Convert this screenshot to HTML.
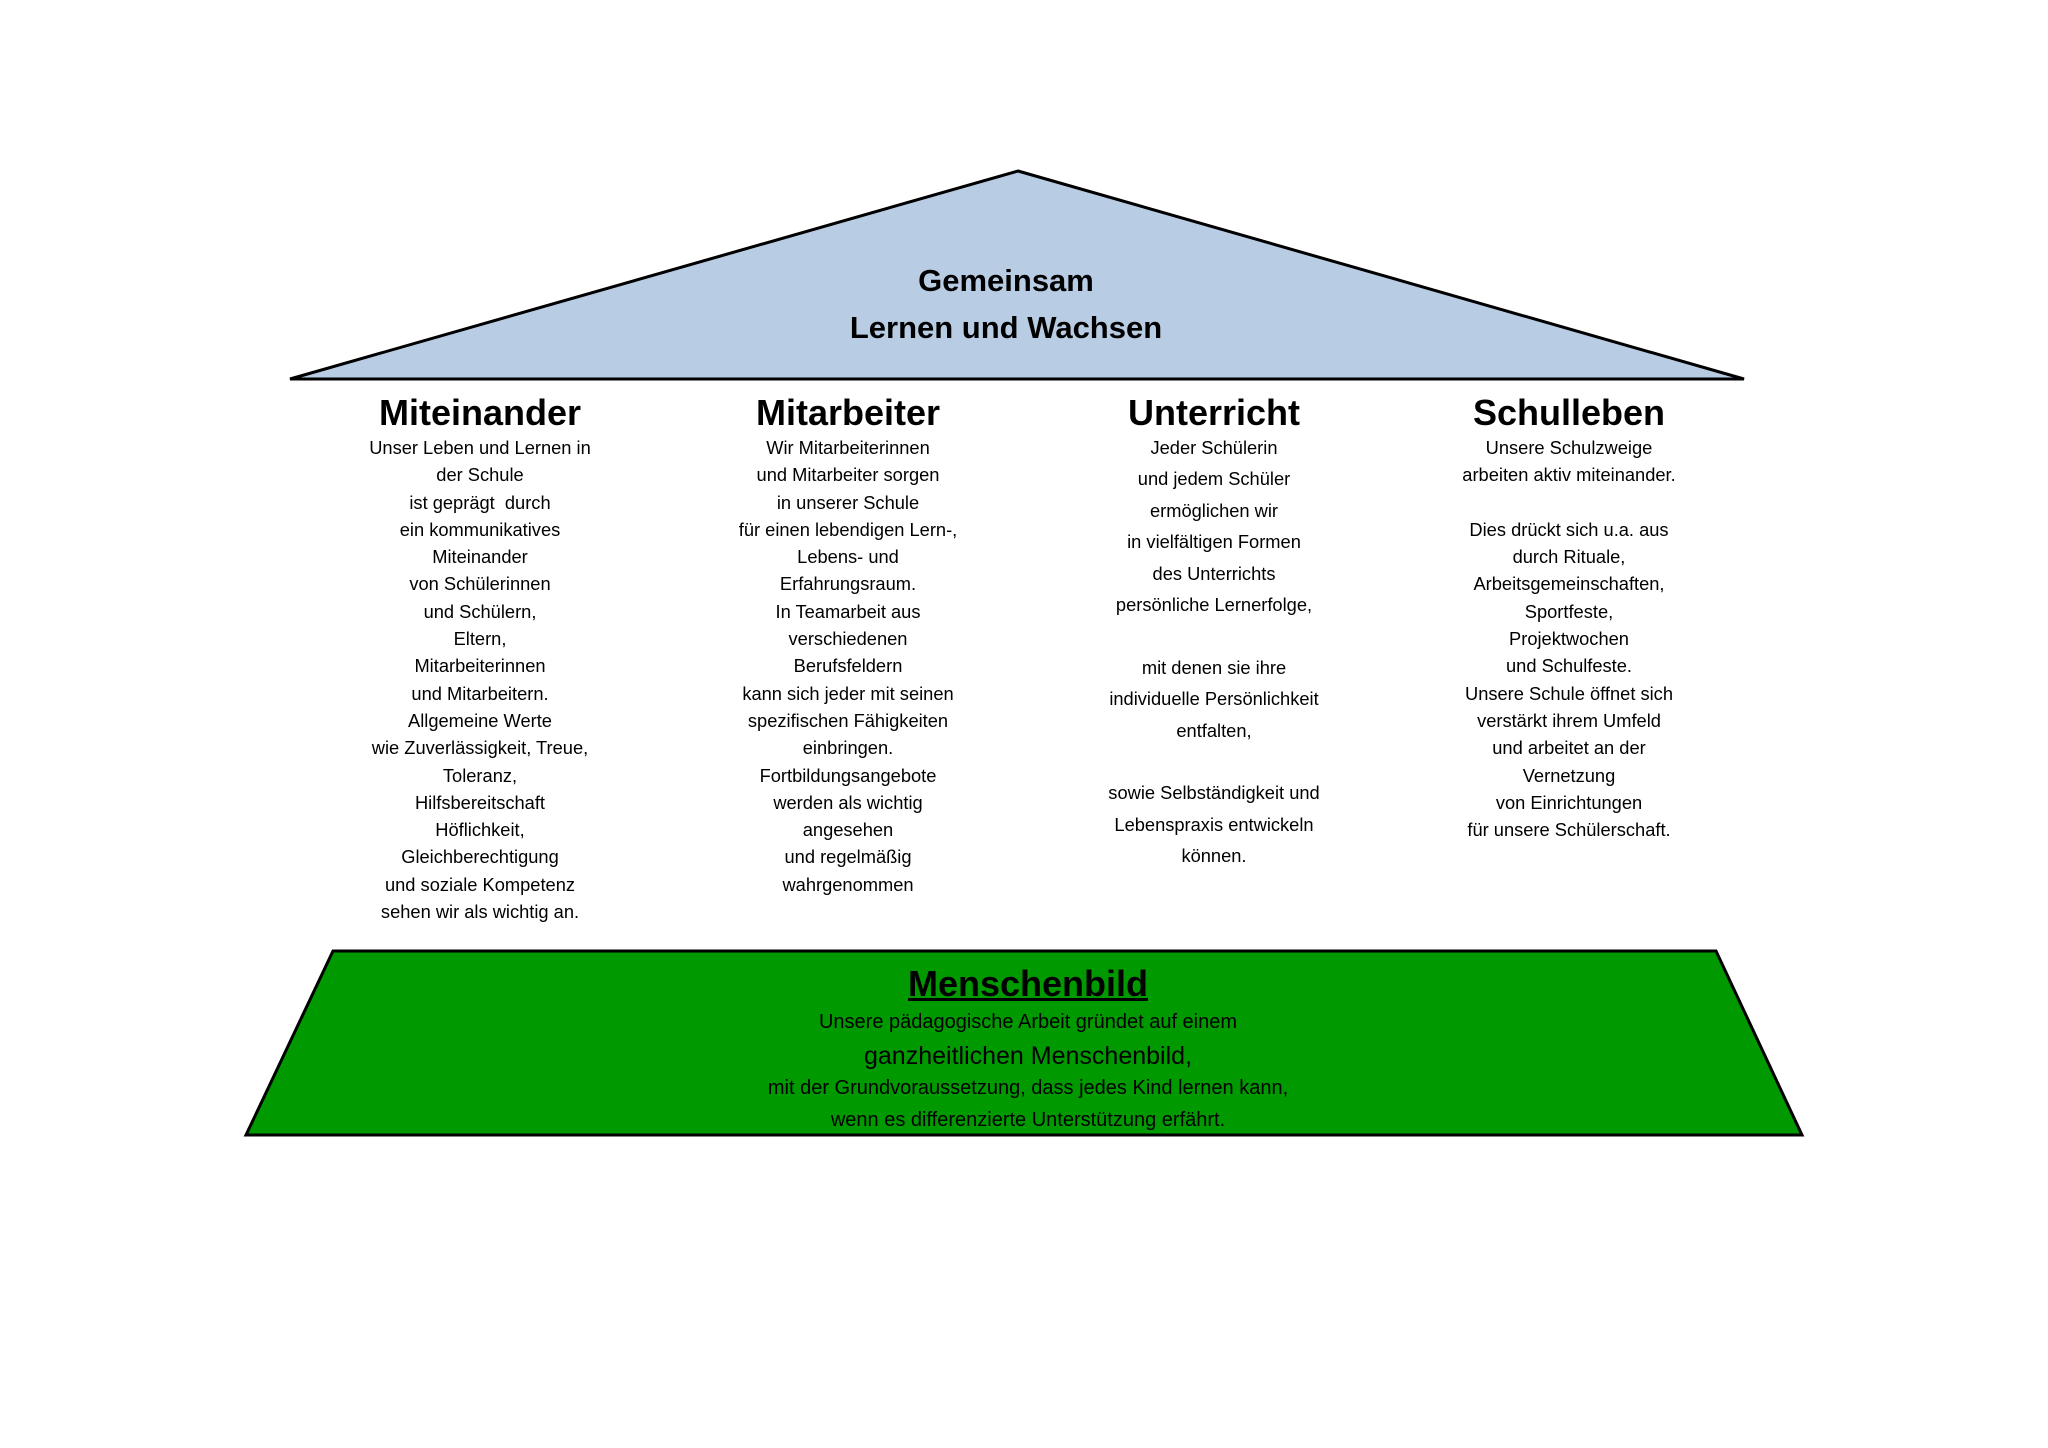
<!DOCTYPE html>
<html><head><meta charset="utf-8"><style>
html,body{margin:0;padding:0;background:#fff}
body{width:2048px;height:1448px;position:relative;overflow:hidden;font-family:"Liberation Sans",sans-serif;color:#000}
.t{position:absolute;text-align:center;white-space:nowrap;transform:translateX(-50%)}
.h{font-weight:bold;font-size:36px;line-height:40px}
.c{font-size:18.3px;line-height:27.3px}
</style></head><body>
<svg width="2048" height="1448" style="position:absolute;left:0;top:0">
<polygon points="1018,171 1744,379 290,379" fill="#b8cce4" stroke="#000" stroke-width="3"/>
<polygon points="333,951 1716,951 1802,1135 246,1135" fill="#009900" stroke="#000" stroke-width="3"/>
</svg>
<div class="t" style="left:1006px;top:257px;font-weight:bold;font-size:31px;line-height:47px">Gemeinsam<br>Lernen und Wachsen</div>

<div class="t h" style="left:480px;top:393px">Miteinander</div>
<div class="t h" style="left:848px;top:393px">Mitarbeiter</div>
<div class="t h" style="left:1214px;top:393px">Unterricht</div>
<div class="t h" style="left:1569px;top:393px">Schulleben</div>

<div class="t c" style="left:480px;top:434px">Unser Leben und Lernen in<br>der Schule<br>ist geprägt&nbsp; durch<br>ein kommunikatives<br>Miteinander<br>von Schülerinnen<br>und Schülern,<br>Eltern,<br>Mitarbeiterinnen<br>und Mitarbeitern.<br>Allgemeine Werte<br>wie Zuverlässigkeit, Treue,<br>Toleranz,<br>Hilfsbereitschaft<br>Höflichkeit,<br>Gleichberechtigung<br>und soziale Kompetenz<br>sehen wir als wichtig an.</div>

<div class="t c" style="left:848px;top:434px">Wir Mitarbeiterinnen<br>und Mitarbeiter sorgen<br>in unserer Schule<br>für einen lebendigen Lern-,<br>Lebens- und<br>Erfahrungsraum.<br>In Teamarbeit aus<br>verschiedenen<br>Berufsfeldern<br>kann sich jeder mit seinen<br>spezifischen Fähigkeiten<br>einbringen.<br>Fortbildungsangebote<br>werden als wichtig<br>angesehen<br>und regelmäßig<br>wahrgenommen</div>

<div class="t c" style="left:1214px;top:432px;line-height:31.4px">Jeder Schülerin<br>und jedem Schüler<br>ermöglichen wir<br>in vielfältigen Formen<br>des Unterrichts<br>persönliche Lernerfolge,<br>&nbsp;<br>mit denen sie ihre<br>individuelle Persönlichkeit<br>entfalten,<br>&nbsp;<br>sowie Selbständigkeit und<br>Lebenspraxis entwickeln<br>können.</div>

<div class="t c" style="left:1569px;top:434px">Unsere Schulzweige<br>arbeiten aktiv miteinander.<br>&nbsp;<br>Dies drückt sich u.a. aus<br>durch Rituale,<br>Arbeitsgemeinschaften,<br>Sportfeste,<br>Projektwochen<br>und Schulfeste.<br>Unsere Schule öffnet sich<br>verstärkt ihrem Umfeld<br>und arbeitet an der<br>Vernetzung<br>von Einrichtungen<br>für unsere Schülerschaft.</div>

<div class="t" style="left:1028px;top:963px;font-weight:bold;font-size:36px;line-height:42px;text-decoration:underline">Menschenbild</div>
<div class="t" style="left:1028px;top:1009px;font-size:20px;line-height:26px">Unsere pädagogische Arbeit gründet auf einem</div>
<div class="t" style="left:1028px;top:1040px;font-size:25px;line-height:32px">ganzheitlichen Menschenbild,</div>
<div class="t" style="left:1028px;top:1072px;font-size:20px;line-height:32px">mit der Grundvoraussetzung, dass jedes Kind lernen kann,<br>wenn es differenzierte Unterstützung erfährt.</div>
</body></html>
